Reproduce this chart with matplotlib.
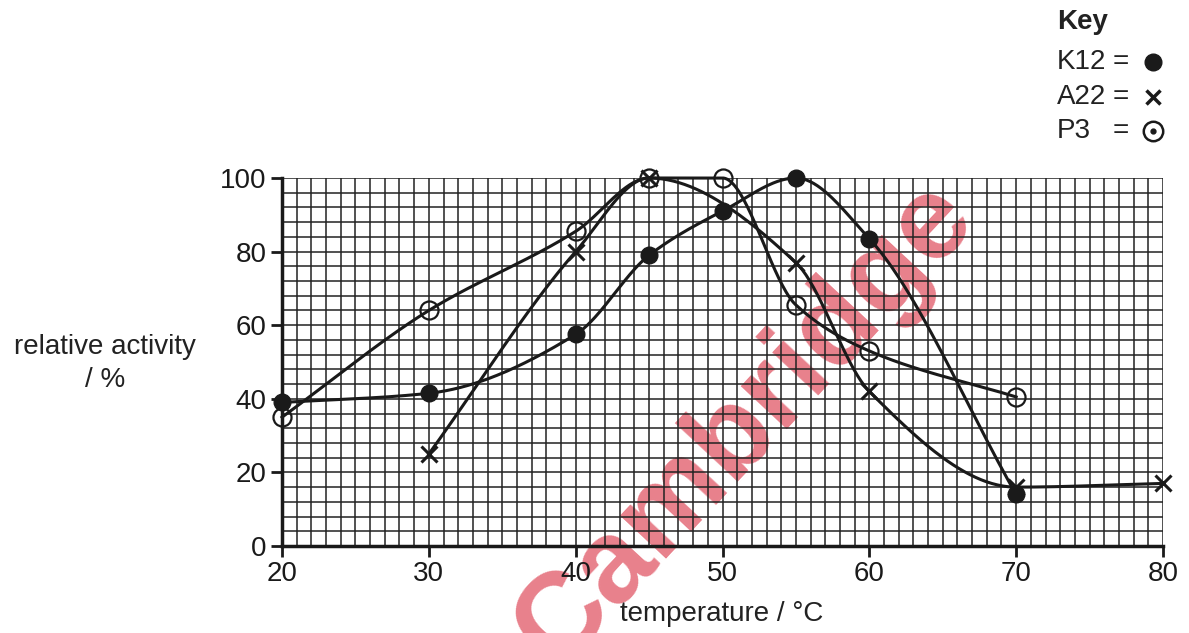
import numpy as np
import matplotlib
matplotlib.use("Agg")
import matplotlib.pyplot as plt
from matplotlib.lines import Line2D

plt.rcParams['font.family'] = ['Liberation Sans', 'DejaVu Sans']

# ---- data ----
k12_x = [20, 30, 40, 45, 50, 55, 60, 70]
k12_y = [39, 41.5, 57.5, 79, 91, 100, 83.5, 14]
a22_x = [30, 40, 45, 55, 60, 70, 80]
a22_y = [25, 80, 100, 77, 42, 16, 17]
p3_x = [20, 30, 40, 45, 50, 55, 60, 70]
p3_y = [35, 64, 85.5, 100, 100, 65.5, 53, 40.5]
x_ticks = [20, 30, 40, 50, 60, 70, 80]
y_ticks = [0, 20, 40, 60, 80, 100]


def pchip(x, y, n=400):
    x = np.asarray(x, float); y = np.asarray(y, float)
    h = np.diff(x); d = np.diff(y) / h
    m = np.zeros_like(y)
    for k in range(1, len(x) - 1):
        if d[k - 1] * d[k] <= 0:
            m[k] = 0.0
        else:
            w1 = 2 * h[k] + h[k - 1]; w2 = h[k] + 2 * h[k - 1]
            m[k] = (w1 + w2) / (w1 / d[k - 1] + w2 / d[k])
    m[0] = d[0]; m[-1] = d[-1]
    xs = np.linspace(x[0], x[-1], n)
    idx = np.clip(np.searchsorted(x, xs) - 1, 0, len(x) - 2)
    t = (xs - x[idx]) / h[idx]
    h00 = 2 * t**3 - 3 * t**2 + 1; h10 = t**3 - 2 * t**2 + t
    h01 = -2 * t**3 + 3 * t**2; h11 = t**3 - t**2
    ys = h00 * y[idx] + h10 * h[idx] * m[idx] + h01 * y[idx + 1] + h11 * h[idx] * m[idx + 1]
    return xs, ys


W, H = 1189, 633
fig = plt.figure(figsize=(W / 100, H / 100), dpi=100)
ax = fig.add_axes([282 / W, 1 - 546 / H, (1163 - 282) / W, (546 - 178) / H])
ax.patch.set_alpha(0)
ax.set_xlim(20, 80)
ax.set_ylim(0, 100)

# grid
ax.set_xticks(np.arange(20, 81, 1), minor=True)
ax.set_yticks(np.arange(0, 101, 4), minor=True)
ax.set_xticks(x_ticks)
ax.set_yticks(y_ticks)
ax.grid(which='both', color='#222222', linewidth=1.1, zorder=0)
ax.set_axisbelow(True)
ax.tick_params(which='minor', length=0)
ax.tick_params(which='major', direction='out', length=8, width=2, labelsize=20, pad=3, colors='#1a1a1a')
for s in ['top', 'right']:
    ax.spines[s].set_visible(False)
for s in ['left', 'bottom']:
    ax.spines[s].set_linewidth(2.5)
    ax.spines[s].set_color('#1a1a1a')

lc = '#1a1a1a'
for xv, yv in [(k12_x, k12_y), (a22_x, a22_y), (p3_x, p3_y)]:
    xs, ys = pchip(xv, yv)
    ax.plot(xs, ys, color=lc, lw=2.2, zorder=3, clip_on=False)

ax.plot(k12_x, k12_y, 'o', color=lc, ms=12, zorder=4, clip_on=False)
ax.plot(a22_x, a22_y, 'x', color=lc, ms=11, mew=2.2, zorder=4, clip_on=False)
ax.plot(p3_x, p3_y, 'o', mfc='none', mec=lc, ms=13, mew=1.6, zorder=4, clip_on=False)

# axis labels
fig.text(105 / W, 1 - 347 / H, 'relative activity', ha='center', va='center', fontsize=20, color='#222222')
fig.text(105 / W, 1 - 380 / H, '/ %', ha='center', va='center', fontsize=20, color='#222222')
fig.text(722 / W, 1 - 614 / H, 'temperature / °C', ha='center', va='center', fontsize=20, color='#222222')

# key
fig.text(1057 / W, 1 - 22 / H, 'Key', ha='left', va='center', fontsize=20, fontweight='bold', color='#222222')
rows = [('K12', 62), ('A22', 97), ('P3', 131)]
for lab, yy in rows:
    fig.text(1057 / W, 1 - yy / H, lab, ha='left', va='center', fontsize=20, color='#222222')
    fig.text(1121 / W, 1 - yy / H, '=', ha='center', va='center', fontsize=20, color='#222222')
fig.add_artist(Line2D([1153 / W], [1 - 62 / H], marker='o', ms=12, color=lc, transform=fig.transFigure))
fig.add_artist(Line2D([1153 / W], [1 - 97 / H], marker='x', ms=10, mew=2.5, color=lc, transform=fig.transFigure))
fig.add_artist(Line2D([1153 / W], [1 - 131 / H], marker='o', ms=14, mfc='none', mew=1.8, mec=lc, transform=fig.transFigure))
fig.add_artist(Line2D([1153 / W], [1 - 131 / H], marker='o', ms=3.5, color=lc, transform=fig.transFigure))

# watermark (behind grid)
fig.text(745 / W, 1 - 425 / H, 'Cambridge', ha='center', va='center', rotation=47,
         fontsize=85, fontweight='bold', color='#e46a77', alpha=0.85, zorder=-1)

fig.savefig('out.png', dpi=100)
